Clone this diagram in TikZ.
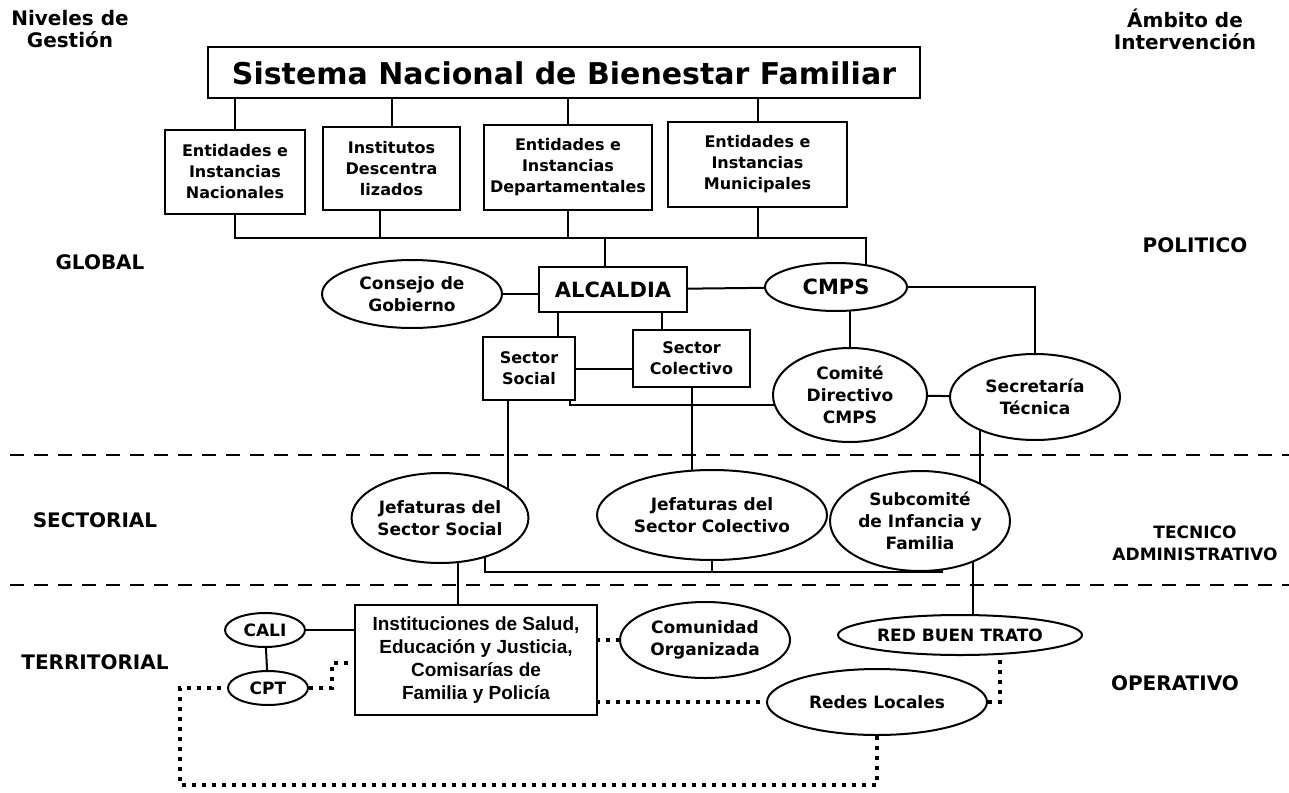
\documentclass[tikz,border=0pt]{standalone}
\usepackage{fontspec}
\setmainfont{DejaVu Sans}
\newfontfamily\arialfont{Liberation Sans}
\usetikzlibrary{shapes.geometric,backgrounds}

\begin{document}
\begin{tikzpicture}[x=0.5pt,y=0.5pt]
\tikzstyle{every node}+=[inner sep=0pt]
\tikzstyle{caja}=[draw=black,fill=white,line width=1pt,rectangle,align=center,font=\bfseries\fontsize{8}{10.5}\selectfont]
\tikzstyle{ovalo}=[draw=black,fill=white,line width=1pt,ellipse,align=center,font=\bfseries\fontsize{8.5}{11}\selectfont]
\tikzstyle{nivel}=[align=center,font=\bfseries\fontsize{10}{11}\selectfont]
\tikzstyle{linea}=[black,line width=1pt]
\tikzstyle{punteado}=[black,line width=2.2pt,dash pattern=on 2.2pt off 2.8pt]
\tikzstyle{corte}=[black,line width=1.1pt,dash pattern=on 7pt off 5pt]
\useasboundingbox (0,0) rectangle (1289,-792);
\node [nivel] (niveles) at (70,-29) {Niveles de\\Gestión};
\node [nivel] (ambito) at (1185,-29) {Ámbito de\\Intervención};
\node [draw=black,fill=white,line width=1pt,minimum width=356pt,minimum height=25.5pt,font=\bfseries\fontsize{15}{18}\selectfont] (sistema) at (564,-73) {Sistema Nacional de Bienestar Familiar};
\node [caja,minimum width=70pt,minimum height=42pt] (nacional) at (235,-172) {Entidades e\\Instancias\\Nacionales};
\node [caja,minimum width=68.5pt,minimum height=41.5pt] (institutos) at (391.5,-168.5) {Institutos\\Descentra\\lizados};
\node [caja,minimum width=84pt,minimum height=42.5pt] (departamental) at (568,-167.5) {Entidades e\\Instancias\\Departamentales};
\node [caja,minimum width=89.5pt,minimum height=42.5pt] (municipal) at (757.5,-164.5) {Entidades e\\Instancias\\Municipales};
\node [nivel] (global) at (100,-262) {GLOBAL};
\node [nivel] (politico) at (1195,-245) {POLITICO};
\node [caja,minimum width=74pt,minimum height=22.5pt,font=\bfseries\fontsize{10.5}{12}\selectfont] (alcaldia) at (613,-289.5) {ALCALDIA};
\node [ovalo,minimum width=90pt,minimum height=34pt] (consejo) at (412,-294) {Consejo de\\Gobierno};
\node [ovalo,minimum width=71pt,minimum height=24pt,font=\bfseries\fontsize{10.5}{12}\selectfont] (cmps) at (836,-287) {CMPS};
\node [caja,minimum width=46pt,minimum height=31.5pt] (social) at (529,-368.5) {Sector\\Social};
\node [caja,minimum width=58.5pt,minimum height=28.5pt] (colectivo) at (691.5,-358.5) {Sector\\Colectivo};
\node [ovalo,minimum width=77pt,minimum height=47pt] (comite) at (850,-395) {Comité\\Directivo\\CMPS};
\node [ovalo,minimum width=85pt,minimum height=43pt] (secretaria) at (1035,-397) {Secretaría\\Técnica};
\node [nivel] (sectorial) at (95,-520) {SECTORIAL};
\node [nivel,font=\bfseries\fontsize{8.5}{11}\selectfont] (tecnico) at (1195,-543) {TECNICO\\ADMINISTRATIVO};
\node [ovalo,minimum width=85pt,minimum height=45pt] (jefsocial) at (440,-518) {Jefaturas del\\Sector Social};
\node [ovalo,minimum width=115pt,minimum height=45pt] (jefcolectivo) at (712,-515) {Jefaturas del\\Sector Colectivo};
\node [ovalo,minimum width=90pt,minimum height=50pt] (subcomite) at (920,-521) {Subcomité\\de Infancia y\\Familia};
\node [nivel] (territorial) at (95,-662) {TERRITORIAL};
\node [nivel] (operativo) at (1175,-683) {OPERATIVO};
\node [ovalo,minimum width=40pt,minimum height=17pt] (cali) at (265,-630) {CALI};
\node [ovalo,minimum width=40pt,minimum height=17pt] (cpt) at (268,-688) {CPT};
\node [caja,minimum width=121pt,minimum height=55pt,font=\arialfont\bfseries\fontsize{9.5}{11.5}\selectfont] (instituciones) at (476,-660) {Instituciones de Salud,\\Educación y Justicia,\\Comisarías de\\Familia y Policía};
\node [ovalo,minimum width=85pt,minimum height=38pt] (comunidad) at (705,-640) {Comunidad\\Organizada};
\node [ovalo,minimum width=122pt,minimum height=20pt] (redbuen) at (960,-635) {RED BUEN TRATO};
\node [ovalo,minimum width=110pt,minimum height=33pt] (redes) at (877,-702) {Redes Locales};
\coordinate (bus) at (0,-238);
\coordinate (cmpsbus) at ([xshift=15pt]cmps.center);
\coordinate (alcbus) at ([xshift=-4pt]alcaldia.center);
\coordinate (instbus) at ([xshift=-5.75pt]institutos.south);
\coordinate (alcsoc) at ([xshift=-27.5pt]alcaldia.center);
\coordinate (alccol) at ([xshift=24.5pt]alcaldia.center);
\coordinate (socjef) at ([xshift=-10.5pt]social.south);
\coordinate (soccom) at ([xshift=20.5pt]social.south);
\coordinate (comlado) at ([yshift=-5pt]comite.center);
\coordinate (secsub) at ([xshift=-27.5pt]secretaria.center);
\coordinate (jefinst) at ([xshift=9pt]jefsocial.center);
\coordinate (jefpie) at ([xshift=22.5pt]jefsocial.center);
\coordinate (raya) at (0,-572);
\coordinate (subpie) at ([xshift=11pt]subcomite.center);
\coordinate (subred) at ([xshift=26.5pt]subcomite.center);
\coordinate (rbtpie) at ([xshift=20pt]redbuen.center);
\coordinate (izq) at (180,-785);
\coordinate (codo) at (332,-663);
\begin{pgfonlayer}{background}
\draw [corte] (10,-455) -- (1289,-455);
\draw [corte] (10,-585) -- (1289,-585);
\draw [linea] (sistema.south -| nacional.north) -- (nacional.north);
\draw [linea] (sistema.south -| institutos.north) -- (institutos.north);
\draw [linea] (sistema.south -| departamental.north) -- (departamental.north);
\draw [linea] (sistema.south -| municipal.north) -- (municipal.north);
\draw [linea] (nacional.south) |- (cmpsbus |- bus) -- (cmpsbus);
\draw [linea] (instbus) -- (instbus |- bus);
\draw [linea] (departamental.south) -- (departamental.south |- bus);
\draw [linea] (municipal.south) -- (municipal.south |- bus);
\draw [linea] (alcbus |- bus) -- (alcbus);
\draw [linea] (consejo) -- (consejo -| alcaldia);
\draw [linea] (alcaldia) -- (cmps);
\draw [linea] (cmps) -| (secretaria);
\draw [linea] (cmps -| comite) -- (comite);
\draw [linea] (comite) -- (secretaria);
\draw [linea] (alcsoc) -- (alcsoc |- social);
\draw [linea] (alccol) -- (alccol |- colectivo);
\draw [linea] (social) -- (colectivo.west |- social);
\draw [linea] (socjef) -- (socjef |- jefsocial);
\draw [linea] (soccom) |- (comlado);
\draw [linea] (colectivo) -- (colectivo |- jefcolectivo);
\draw [linea] (secsub) -- (secsub |- subcomite);
\draw [linea] (jefinst) -- (jefinst |- instituciones);
\draw [linea] (jefpie) |- (subpie |- raya) -- (subpie);
\draw [linea] (jefcolectivo) -- (jefcolectivo |- raya);
\draw [linea] (subred) -- (subred |- redbuen);
\draw [linea] (cali) -- (cpt);
\draw [linea] (cali) -- (cali -| instituciones);
\draw [punteado] (comunidad -| instituciones) -- (comunidad);
\draw [punteado] (redes -| instituciones) -- (redes);
\draw [punteado] (redes) -| (rbtpie);
\draw [punteado] (redes) |- (izq) |- (cpt);
\draw [punteado] (cpt) -| (codo) -- (codo -| instituciones);
\end{pgfonlayer}
\end{tikzpicture}
\end{document}
